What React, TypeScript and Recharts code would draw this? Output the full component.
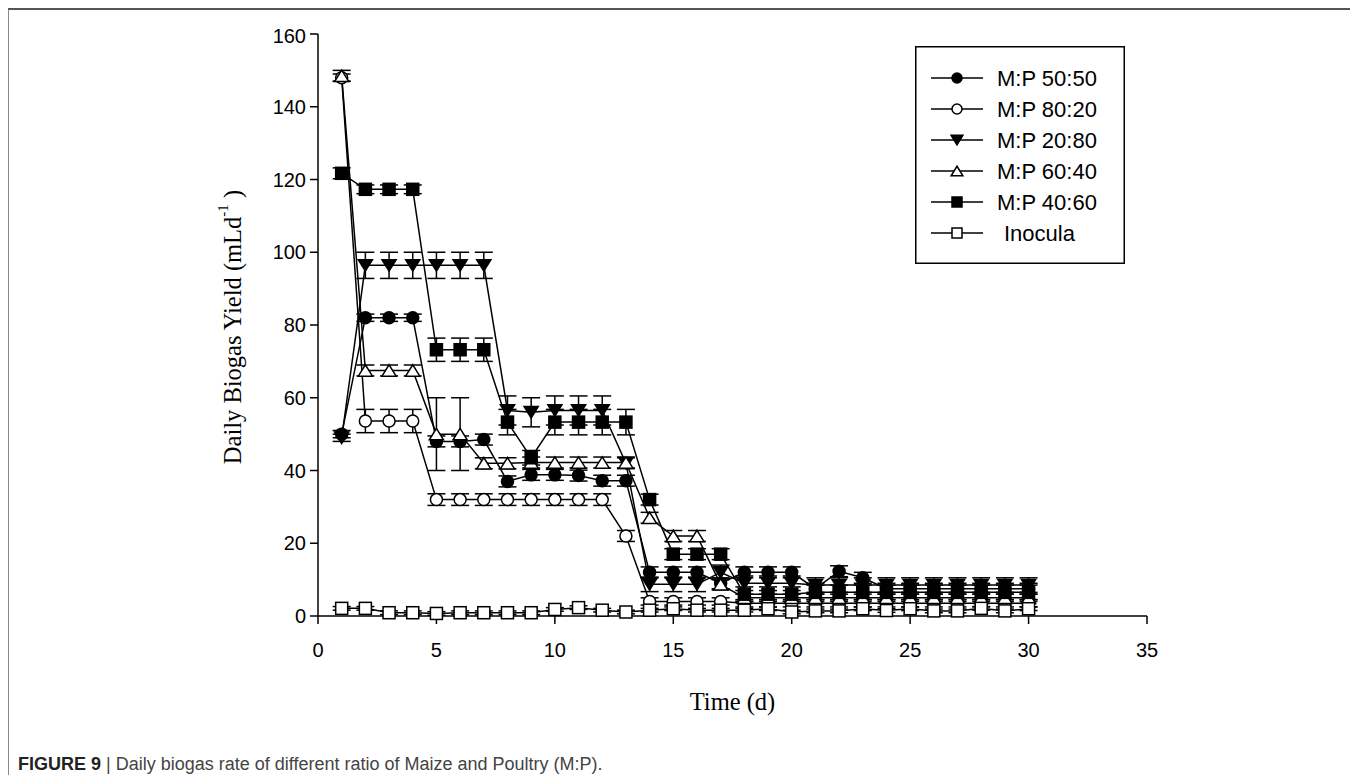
import React from 'react'
import { ErrorBar, Legend, Line, LineChart, XAxis, YAxis } from 'recharts'

// days of digestion
const days = [1, 2, 3, 4, 5, 6, 7, 8, 9, 10, 11, 12, 13, 14, 15, 16, 17, 18, 19, 20, 21, 22, 23, 24, 25, 26, 27, 28, 29, 30]

// daily biogas yield (mL/d)
const mp5050 = [50, 82, 82, 82, 48, 48, 48.5, 37, 38.8, 38.8, 38.6, 37.2, 37.2, 12, 12, 12, 9, 12, 12, 12, 7.5, 12.3, 10.5, 7.5, 7.5, 7.5, 7.5, 7.5, 7.5, 7.5]
const mp8020 = [148, 53.6, 53.6, 53.6, 32, 32, 32, 32, 32, 32, 32, 32, 22, 4, 4, 4, 4, 3.5, 3.5, 3.5, 3.5, 3.5, 3.5, 3.5, 3.5, 3.5, 3.5, 3.5, 3.5, 3.5]
const mp2080 = [49, 96.4, 96.4, 96.4, 96.4, 96.4, 96.4, 56.5, 56, 56.5, 56.5, 56.5, 42, 8.7, 8.7, 8.7, 12, 9, 9, 9, 8.5, 8.5, 8.5, 8.5, 8.5, 8.5, 8.5, 8.5, 8.5, 8.5]
const mp6040 = [148.5, 67.5, 67.5, 67.5, 50, 50, 42, 42, 42.2, 42.2, 42.2, 42.2, 42.2, 27, 22, 22, 8.7, 5, 5, 5, 5, 5, 5, 5, 5, 5, 5, 5, 5, 5]
const mp4060 = [121.7, 117.3, 117.3, 117.3, 73.2, 73.2, 73.2, 53.3, 43.5, 53.3, 53.3, 53.3, 53.3, 32, 17, 17, 17, 6, 6, 6, 6.5, 6.5, 6.5, 6.5, 6.5, 6.5, 6.5, 6.5, 6.5, 6.5]
const inocula = [2.1, 2.1, 0.9, 0.9, 0.7, 0.9, 0.9, 0.9, 0.9, 1.8, 2.3, 1.6, 1.1, 1.6, 2, 1.6, 1.6, 1.6, 2, 1.1, 1.4, 1.4, 2, 1.5, 2, 1.4, 1.4, 2.1, 1.4, 2]

// standard errors
const err5050 = [1, 1, 1, 1, 1.5, 1.5, 1.5, 1.5, 1.5, 1.5, 1.5, 1.5, 1.5, 1.5, 1.5, 1.5, 1.5, 1.5, 1.5, 1.5, 1.5, 1.5, 1.5, 1.5, 1.5, 1.5, 1.5, 1.5, 1.5, 1.5]
const err8020 = [1, 3.2, 3.2, 3.2, 1.6, 1.6, 1.6, 1.6, 1.6, 1.6, 1.6, 1.6, 1.5, 1, 1, 1, 1, 1, 1, 1, 1, 1, 1, 1, 1, 1, 1, 1, 1, 1]
const err2080 = [1, 3.6, 3.6, 3.6, 3.6, 3.6, 3.6, 4, 4, 4, 4, 4, 1.5, 2, 2, 2, 2, 2, 2, 2, 2, 2, 2, 2, 2, 2, 2, 2, 2, 2]
const err6040 = [1.5, 1.5, 1.5, 1.5, 10, 10, 1.5, 1.5, 1.5, 1.5, 1.5, 1.5, 1.5, 1.5, 1.5, 1.5, 1.5, 1, 1, 1, 1, 1, 1, 1, 1, 1, 1, 1, 1, 1]
const err4060 = [1.5, 1.2, 1.2, 1.2, 3.2, 3.2, 3.2, 3.5, 2, 3.5, 3.5, 3.5, 3.5, 1.5, 1.5, 1.5, 1.5, 2, 2, 2, 2, 2, 2, 2, 2, 2, 2, 2, 2, 2]
const errInoc = [0.5, 0.5, 0.5, 0.5, 0.5, 0.5, 0.5, 0.5, 0.5, 0.5, 0.5, 0.5, 0.5, 0.5, 0.5, 0.5, 0.5, 0.5, 0.5, 0.5, 0.5, 0.5, 0.5, 0.5, 0.5, 0.5, 0.5, 0.5, 0.5, 0.5]

const xTicks = [0, 5, 10, 15, 20, 25, 30, 35]
const yTicks = [0, 20, 40, 60, 80, 100, 120, 140, 160]

const data = days.map((d, i) => ({
  day: d,
  mp5050: mp5050[i], e5050: err5050[i],
  mp8020: mp8020[i], e8020: err8020[i],
  mp2080: mp2080[i], e2080: err2080[i],
  mp6040: mp6040[i], e6040: err6040[i],
  mp4060: mp4060[i], e4060: err4060[i],
  inocula: inocula[i], eInoc: errInoc[i],
}))

const series = [
  { key: 'mp5050', err: 'e5050', name: 'M:P 50:50', shape: 'circle', fill: '#000' },
  { key: 'mp8020', err: 'e8020', name: 'M:P 80:20', shape: 'circle', fill: '#fff' },
  { key: 'mp2080', err: 'e2080', name: 'M:P 20:80', shape: 'down', fill: '#000' },
  { key: 'mp6040', err: 'e6040', name: 'M:P 60:40', shape: 'up', fill: '#fff' },
  { key: 'mp4060', err: 'e4060', name: 'M:P 40:60', shape: 'square', fill: '#000' },
  { key: 'inocula', err: 'eInoc', name: 'Inocula', shape: 'square', fill: '#fff' },
]

const Marker = ({ shape, fill, cx, cy, r }: any) => {
  const sw = 1.5
  if (shape === 'circle') return <circle cx={cx} cy={cy} r={r} fill={fill} stroke="#000" strokeWidth={sw} />
  if (shape === 'square') return <rect x={cx - r} y={cy - r} width={2 * r} height={2 * r} fill={fill} stroke="#000" strokeWidth={sw} />
  const w = r * 1.18
  const h = r * 1.9
  if (shape === 'down')
    return <polygon points={`${cx - w},${cy - h / 2} ${cx + w},${cy - h / 2} ${cx},${cy + h / 2}`} fill={fill} stroke="#000" strokeWidth={sw} strokeLinejoin="miter" />
  return <polygon points={`${cx - w},${cy + h / 2} ${cx + w},${cy + h / 2} ${cx},${cy - h / 2}`} fill={fill} stroke="#000" strokeWidth={sw} strokeLinejoin="miter" />
}

const LegendBox = () => (
  <svg width={210} height={218} style={{ display: 'block' }}>
    <rect x={0.75} y={0.75} width={208.5} height={216.5} fill="#fff" stroke="#000" strokeWidth={1.5} />
    {series.map((s, i) => {
      const y = 32 + i * 31
      return (
        <g key={s.key}>
          <line x1={16} x2={68} y1={y} y2={y} stroke="#000" strokeWidth={1.5} />
          <Marker shape={s.shape} fill={s.fill} cx={42} cy={y} r={5} />
          <text x={s.key === 'inocula' ? 89 : 82} y={y} dominantBaseline="central" fontFamily="'Liberation Sans', Arial, sans-serif" fontSize={22} fill="#000">
            {s.name}
          </text>
        </g>
      )
    })}
  </svg>
)

const serif = "'Liberation Serif', 'Times New Roman', serif"

const YTitle = () => (
  <text x={23} y={303} transform="rotate(-90, 23, 303)" textAnchor="middle" dominantBaseline="central" fontFamily={serif} fontSize={24.5} fill="#000">
    Daily Biogas Yield (mLd
    <tspan dy={-9} fontSize={15}>-1</tspan>
    <tspan dy={9}> )</tspan>
  </text>
)

const tickStyle = { fontFamily: "'Liberation Sans', Arial, sans-serif", fontSize: 20, fill: '#000' }

export default function App() {
  return (
    <div
      style={{
        position: 'relative',
        boxSizing: 'border-box',
        width: 1350,
        height: 767,
        marginLeft: -1,
        borderTop: '2px solid #555',
        borderLeft: '2px solid #888',
        borderRight: '2px solid #888',
        overflow: 'hidden',
        background: '#fff',
      }}
    >
      <div style={{ position: 'absolute', left: 200, top: 14 }}>
        <LineChart width={958} height={692} data={data} margin={{ top: 10, right: 20, bottom: 0, left: 0 }}>
          <XAxis
            dataKey="day"
            type="number"
            domain={[0, 35]}
            ticks={xTicks}
            height={100}
            tickSize={8}
            tickMargin={19}
            tick={tickStyle}
            stroke="#000"
            strokeWidth={1.5}
            label={{ value: 'Time (d)', position: 'insideBottom', offset: 6, style: { fontFamily: serif, fontSize: 24.5, fill: '#000' } }}
          />
          <YAxis
            type="number"
            domain={[0, 160]}
            ticks={yTicks}
            width={109}
            tickSize={8}
            tickMargin={4}
            tick={tickStyle}
            stroke="#000"
            strokeWidth={1.5}
            label={{ content: () => <YTitle /> }}
          />
          <Legend
            layout="vertical"
            align="center"
            verticalAlign="middle"
            wrapperStyle={{ left: 706, top: 22, width: 210, height: 218 }}
            content={() => <LegendBox />}
          />
          {series.map((s) => (
            <Line
              key={s.key}
              dataKey={s.key}
              name={s.name}
              stroke="#000"
              strokeWidth={1.5}
              isAnimationActive={false}
              activeDot={false}
              dot={(p: any) => <Marker key={`${s.key}-${p.index}`} shape={s.shape} fill={s.fill} cx={p.cx} cy={p.cy} r={6} />}
            >
              <ErrorBar dataKey={s.err} width={9} stroke="#000" strokeWidth={1.5} direction="y" />
            </Line>
          ))}
        </LineChart>
      </div>
      <div
        style={{
          position: 'absolute',
          left: 9,
          top: 744,
          fontFamily: "'Liberation Sans Narrow', 'Liberation Sans', Arial, sans-serif",
          fontSize: 18,
          color: '#444',
          whiteSpace: 'nowrap',
        }}
      >
        <b style={{ color: '#222' }}>FIGURE 9</b> | Daily biogas rate of different ratio of Maize and Poultry (M:P).
      </div>
    </div>
  )
}
